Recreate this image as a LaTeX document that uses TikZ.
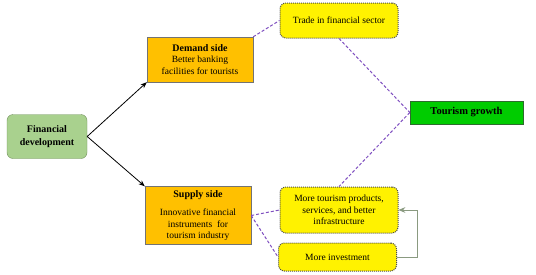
\documentclass[tikz,border=0pt]{standalone}
\usepackage{fontspec}
\setmainfont{Liberation Serif}
\usetikzlibrary{arrows.meta}
\definecolor{fingreen}{HTML}{A9D18E}
\definecolor{finedge}{HTML}{6F8F5A}
\definecolor{sideorange}{HTML}{FFC000}
\definecolor{growthgreen}{HTML}{00CC00}
\definecolor{growthedge}{HTML}{2E6B2E}
\definecolor{linkpurple}{HTML}{7F4FC0}
\definecolor{loopgray}{HTML}{8A9A80}
\tikzset{
    base/.style={draw, rectangle, align=center, inner sep=2pt, font=\fontsize{9.5}{11.5}\selectfont},
    finbox/.style={base, rounded corners=6pt, fill=fingreen, draw=finedge, minimum width=80pt, minimum height=44pt, font=\fontsize{10}{13.5}\selectfont\bfseries},
    sidebox/.style={base, fill=sideorange, draw=black!55, minimum width=106pt},
    effectbox/.style={base, rounded corners=6pt, fill=yellow, draw=black!70, densely dotted, line width=1pt, minimum width=118pt},
    growthbox/.style={base, fill=growthgreen, draw=growthedge, minimum width=113pt, minimum height=23pt, font=\fontsize{10.5}{12}\selectfont\bfseries},
    arrow/.style={-{Stealth[length=2.2mm, width=1.7mm]}, thick},
    link/.style={draw=linkpurple, dash pattern=on 3pt off 2pt, line width=1pt},
    feedback/.style={draw=loopgray, line width=1pt, -{Stealth[length=2.4mm, width=2mm]}}
}
\begin{document}
\begin{tikzpicture}[x=1pt, y=-1pt]
\useasboundingbox (0,0) rectangle (536,274);
\node[finbox] (fin) at (47,136.5) {Financial\\development};
\node[sidebox, minimum height=45pt] (demand) at (200,59.5) {\textbf{\fontsize{10}{12}\selectfont Demand side}\\Better banking\\facilities for tourists};
\node[sidebox, minimum height=58pt] (supply) at (198,215.5) {\textbf{\fontsize{10}{12}\selectfont Supply side}\\[7pt]Innovative financial\\ instruments~ for\\tourism industry};
\node[effectbox, minimum height=35pt] (trade) at (339,20.5) {Trade in financial sector};
\node[effectbox, minimum height=46pt] (products) at (339,210) {More tourism products,\\services, and better\\infrastructure};
\node[effectbox, minimum height=28pt] (invest) at (337.5,257) {More investment};
\node[growthbox] (growth) at (466.5,112.5) {Tourism growth};
% channels from finance
\draw[arrow] (fin.east) -- (demand.south west);
\draw[arrow] (fin.east) -- (supply.north west);
% links to growth
\draw[link] (demand.north east) -- (trade.west);
\draw[link] (trade.south) -- (growth.west);
\draw[link] (growth.west) -- (products.north);
\draw[link] (supply.east) -- (products.west);
\draw[link] (supply.east) -- (invest.west);
\draw[feedback] (invest.east) -- ++(20,0) |- (products.east);
\end{tikzpicture}
\end{document}
